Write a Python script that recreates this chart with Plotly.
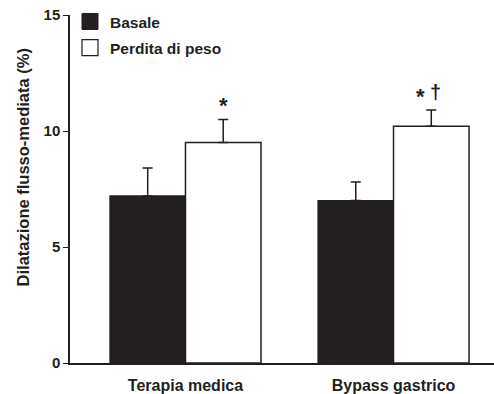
import plotly.graph_objects as go

categories = ["Terapia medica", "Bypass gastrico"]
basale = [7.2, 7.0]
basale_err = [1.2, 0.8]
perdita = [9.5, 10.2]
perdita_err = [1.0, 0.7]
marks = ["*", "*†"]
y_ticks = [0, 5, 10, 15]
y_title = "Dilatazione flusso-mediata (%)"

FONT = "Liberation Sans, Arial, sans-serif"
BLACK = "#231f20"
xpos = list(range(len(categories)))
group_w = 0.726
half = group_w / 4

fig = go.Figure()
fig.add_trace(go.Bar(
    x=xpos, y=basale, name="Basale", showlegend=False,
    marker=dict(color=BLACK, line=dict(color=BLACK, width=1.2)),
    error_y=dict(type="data", symmetric=False, array=basale_err,
                 arrayminus=[0] * len(basale), color=BLACK, thickness=1.5, width=5),
))
fig.add_trace(go.Bar(
    x=xpos, y=perdita, name="Perdita di peso", showlegend=False,
    marker=dict(color="white", line=dict(color=BLACK, width=1.5)),
    error_y=dict(type="data", symmetric=False, array=perdita_err,
                 arrayminus=[0] * len(perdita), color=BLACK, thickness=1.5, width=5),
))
# legend proxies
fig.add_trace(go.Scatter(x=[None], y=[None], mode="markers", name="Basale",
                         legendgroup="a",
                         marker=dict(symbol="square", size=16, color=BLACK,
                                     line=dict(color=BLACK, width=1))))
fig.add_trace(go.Scatter(x=[None], y=[None], mode="markers", name="Perdita di peso",
                         legendgroup="b",
                         marker=dict(symbol="square", size=16, color="white",
                                     line=dict(color=BLACK, width=1.2))))

# significance marks: each glyph drawn separately
glyph_style = {"*": dict(size=22, yshift=-1), "†": dict(size=20, yshift=5)}
for i, m in enumerate(marks):
    shifts = [0] if len(m) == 1 else [-11, 4]
    for ch, xs in zip(m, shifts):
        st = glyph_style[ch]
        fig.add_annotation(x=xpos[i] + half, y=perdita[i] + perdita_err[i],
                           text="<b>%s</b>" % ch, showarrow=False, yanchor="bottom",
                           xshift=xs, yshift=st["yshift"],
                           font=dict(family=FONT, size=st["size"], color=BLACK))

fig.add_annotation(xref="paper", yref="paper", x=0, y=0.562, xshift=-47,
                   text="<b>%s</b>" % y_title, textangle=-90, showarrow=False,
                   xanchor="center", yanchor="middle",
                   font=dict(family=FONT, size=16.5, color=BLACK))

fig.update_layout(
    width=494, height=394,
    margin=dict(l=70, r=0, t=15, b=31),
    paper_bgcolor="white", plot_bgcolor="white",
    barmode="group", bargap=1 - group_w, bargroupgap=0,
    font=dict(family=FONT, color=BLACK),
    legend=dict(x=0.0, y=1.029, xanchor="left", yanchor="top",
                font=dict(family=FONT, size=15.5, color=BLACK, weight="bold"),
                itemsizing="trace", bgcolor="rgba(0,0,0,0)", tracegroupgap=3),
    xaxis=dict(range=[-0.555, 1.483], tickvals=xpos, ticktext=categories,
               showgrid=False, zeroline=False, showline=True, linecolor=BLACK,
               linewidth=1.5, ticks="", tickfont=dict(family=FONT, size=16, weight="bold"),
               ticklabelstandoff=7),
    yaxis=dict(range=[0, 15], tickvals=y_ticks, showgrid=False, zeroline=False,
               showline=True, linecolor=BLACK, linewidth=1.5, ticks="outside",
               ticklen=5, tickwidth=1.2, tickcolor=BLACK,
               tickfont=dict(family=FONT, size=15, weight="bold")),
)
fig.write_html("out.html", config={"displayModeBar": False},
               post_script="document.body.style.margin='0';document.body.style.overflow='hidden';")
